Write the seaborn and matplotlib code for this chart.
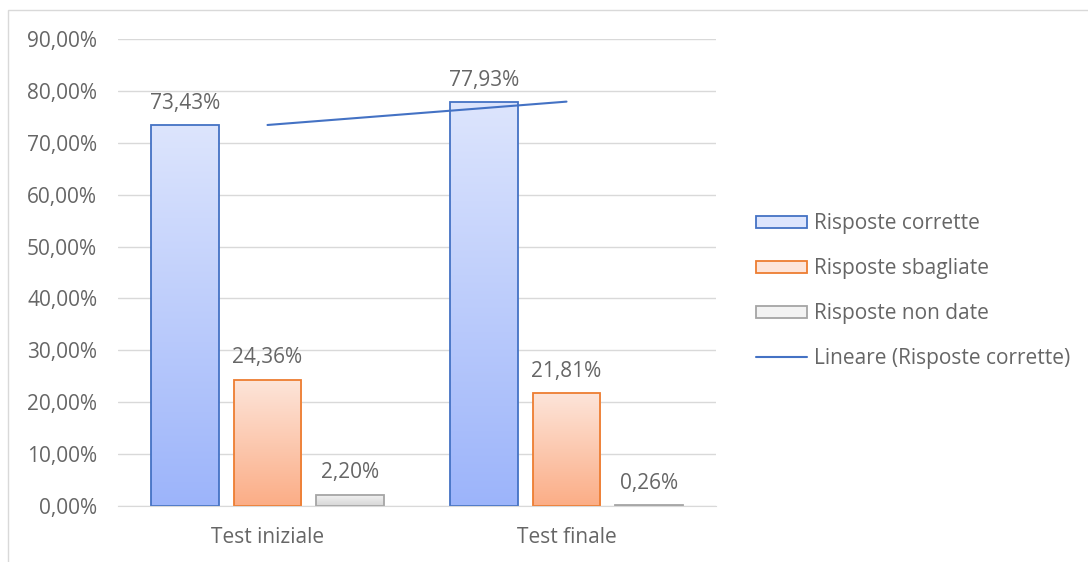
"""
Risultati test iniziale / finale - grafico a barre con gradiente
"""

import numpy as np
import pandas as pd
import matplotlib
matplotlib.use("Agg")
import matplotlib.pyplot as plt
from matplotlib.colors import LinearSegmentedColormap
from matplotlib.patches import Patch, Rectangle
from matplotlib.lines import Line2D
from matplotlib.ticker import FuncFormatter, MultipleLocator
import seaborn as sns

# ── Data ──────────────────────────────────────
tests      = ["Test iniziale", "Test finale"]
serie      = ["Risposte corrette", "Risposte sbagliate", "Risposte non date"]
corrette   = [0.7343, 0.7793]
sbagliate  = [0.2436, 0.2181]
non_date   = [0.0220, 0.0026]
trend_lbl  = "Lineare (Risposte corrette)"

# ── Style ─────────────────────────────────────
EDGE   = ["#4472c4", "#ed7d31", "#a5a5a5"]
TOP    = ["#dde5fd", "#fde5da", "#f3f3f3"]
BOTTOM = ["#9cb4fa", "#fbad86", "#d6d6d6"]
TEXT   = "#666666"
GRID   = "#d9d9d9"
FS     = 15

sns.set_style("white")
plt.rcParams["font.family"] = ["Open Sans", "DejaVu Sans"]
plt.rcParams["font.size"] = FS


def it_pct(v, _=None):
    return f"{v * 100:.2f}".replace(".", ",") + "%"


def main():
    df = pd.DataFrame({
        "test": tests * 3,
        "serie": [s for s in serie for _ in tests],
        "valore": corrette + sbagliate + non_date,
    })

    fig = plt.figure(figsize=(10.88, 5.62), dpi=100)
    ax = fig.add_axes([118 / 1088, 56 / 562, 598 / 1088, 467 / 562])

    sns.barplot(data=df, x="test", y="valore", hue="serie", hue_order=serie,
                order=tests, palette=TOP, width=0.83, gap=0.18,
                errorbar=None, legend=False, ax=ax)

    # gradient fill + edge per bar
    for i, cont in enumerate(ax.containers):
        cmap = LinearSegmentedColormap.from_list(f"g{i}", [BOTTOM[i], TOP[i]])
        grad = np.linspace(0, 1, 256).reshape(-1, 1)
        for bar in cont:
            bar.set_facecolor("none")
            bar.set_edgecolor(EDGE[i])
            bar.set_linewidth(1.3)
            bar.set_zorder(2)
            x0, y0 = bar.get_x(), bar.get_y()
            w, h = bar.get_width(), bar.get_height()
            im = ax.imshow(grad, cmap=cmap, origin="lower", aspect="auto",
                           extent=(x0, x0 + w, y0, y0 + h), zorder=1.5)
            im.set_clip_path(bar)
        ax.bar_label(cont, labels=[it_pct(v) for v in cont.datavalues],
                     padding=8, color=TEXT, fontsize=FS)

    # linear trendline on correct answers
    xs = np.arange(len(tests))
    fit = np.polyfit(xs, corrette, 1)
    ax.plot(xs, np.polyval(fit, xs), color="#4472c4", lw=1.5, zorder=3)

    ax.set_xlim(-0.5, len(tests) - 0.5)
    ax.set_ylim(0, 0.9)
    ax.yaxis.set_major_locator(MultipleLocator(0.1))
    ax.yaxis.set_major_formatter(FuncFormatter(it_pct))
    ax.set_axisbelow(True)
    ax.grid(axis="y", color=GRID, lw=1)
    ax.grid(axis="x", visible=False)
    for side in ["top", "right", "left"]:
        ax.spines[side].set_visible(False)
    ax.spines["bottom"].set_color(GRID)
    ax.tick_params(axis="both", length=0, colors=TEXT, labelsize=FS)
    ax.tick_params(axis="y", pad=15)
    ax.tick_params(axis="x", pad=15)
    ax.set_xlabel("")
    ax.set_ylabel("")

    handles = [Patch(facecolor=TOP[i], edgecolor=EDGE[i], lw=1.3) for i in range(3)]
    handles.append(Line2D([0], [0], color="#4472c4", lw=1.5))
    fig.legend(handles, serie + [trend_lbl], loc="center left",
               bbox_to_anchor=(756 / 1088, 1 - 291 / 562), frameon=False,
               fontsize=FS, labelcolor=TEXT, handlelength=2.45, handleheight=0.5,
               handletextpad=0.34, labelspacing=1.15, borderpad=0, borderaxespad=0)

    # chart area border
    fig.patches.append(Rectangle((8 / 1088, -0.05), 1.1, 1 - 10 / 562 + 0.05,
                                 transform=fig.transFigure, fill=False,
                                 edgecolor=GRID, lw=1))

    fig.savefig("out.png", dpi=100)


if __name__ == "__main__":
    main()
